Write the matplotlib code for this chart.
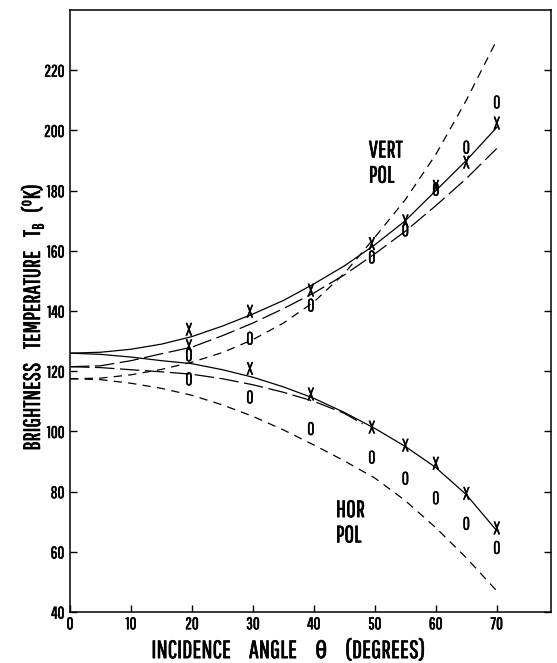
import matplotlib
matplotlib.use('Agg')
import matplotlib.pyplot as plt
import matplotlib.patheffects as pe
from matplotlib.text import Text

plt.rcParams['font.family'] = ['Pathway Gothic One', 'Roboto Condensed', 'DejaVu Sans']
plt.rcParams['mathtext.fontset'] = 'custom'
plt.rcParams['mathtext.rm'] = 'Pathway Gothic One'
plt.rcParams['mathtext.it'] = 'Pathway Gothic One'
plt.rcParams['lines.scale_dashes'] = False

# theory curves, angle in degrees
angle = [0, 5, 10, 15, 20, 25, 30, 35, 40, 45, 50, 55, 60, 65, 70]
vert_solid = [126, 126.3, 127.3, 129, 131.5, 135, 139, 143.5, 149, 155, 162, 170, 180, 190, 201]
vert_long = [121.5, 121.8, 123.5, 125.8, 128, 131.8, 136, 140.8, 146, 152, 159, 166.5, 175, 184, 194]
vert_short = [117.5, 117.7, 118.8, 120.6, 123, 126.2, 130.5, 136, 143, 152.5, 164.5, 177, 192, 210, 230]
hor_solid = [126, 125.6, 124.7, 123.5, 122.5, 120.5, 118, 114.8, 111, 106.3, 101, 95, 88, 79, 67]
hor_short = [117.5, 117.2, 116, 114.3, 112, 108.8, 105, 100.5, 95.5, 90.2, 84.5, 77, 68, 58, 47]
angle_long_h = [0, 5, 10, 15, 20, 25, 30, 35, 40, 45, 48]
hor_long = [121.5, 121.2, 120.5, 119.8, 119, 117.5, 115.5, 113, 110, 106, 102.5]

# measured points
meas_angle = [19.5, 29.5, 39.5, 49.5, 55, 60, 65, 70]
vert_x = [133.5, 139.5, 146.5, 162, 169.5, 181, 189, 202]
vert_o = [125, 130.5, 141.5, 157.5, 166.5, 180, 194, 209]
hor_x = [128, 120.5, 112, 101, 95, 89, 79, 67.5]
hor_o = [117, 111, 100.5, 91, 84, 77.5, 69, 61]

fig = plt.figure(figsize=(5.57, 6.63), dpi=100)
ax = fig.add_axes([0.1257, 0.0769, 0.8636, 0.908])

lw = 0.9
long_dash = (0, (14, 4))
short_dash = (0, (6, 4.5))
ax.plot(angle, vert_solid, color='black', lw=lw)
ax.plot(angle, vert_long, color='black', lw=lw, linestyle=long_dash)
ax.plot(angle, vert_short, color='black', lw=lw, linestyle=short_dash)
ax.plot(angle, hor_solid, color='black', lw=lw)
ax.plot(angle_long_h, hor_long, color='black', lw=lw, linestyle=long_dash)
ax.plot(angle, hor_short, color='black', lw=lw, linestyle=short_dash)

marks = []
for a, v in zip(meas_angle, vert_x):
    marks.append(ax.text(a, v, 'X', ha='center', va='center', fontsize=13))
for a, v in zip(meas_angle, hor_x):
    marks.append(ax.text(a, v, 'X', ha='center', va='center', fontsize=13))
for a, v in zip(meas_angle, vert_o):
    marks.append(ax.text(a, v, '0', ha='center', va='center', fontsize=13))
for a, v in zip(meas_angle, hor_o):
    marks.append(ax.text(a, v, '0', ha='center', va='center', fontsize=13))

ax.text(49.0, 189, 'VERT\nPOL', ha='left', va='center', fontsize=17,
        linespacing=1.25)
ax.text(43.6, 69.5, 'HOR\nPOL', ha='left', va='center', fontsize=17,
        linespacing=1.25)

ax.set_xlim(0, 78.9)
ax.set_ylim(40, 240)
ax.set_xticks(range(0, 71, 10))
ax.set_yticks(range(40, 221, 20))
ax.tick_params(direction='in', length=5, width=1, labelsize=12, right=True, pad=3)
ax.tick_params(axis='y', pad=4)
for s in ax.spines.values():
    s.set_linewidth(1.1)

ax.set_xlabel('INCIDENCE     ANGLE     \u03b8     (DEGREES)', fontsize=18)
ax.xaxis.set_label_coords(0.455, -0.045)
ax.set_ylabel('BRIGHTNESS    TEMPERATURE    T$_{\\mathrm{B}}$   ($^{\\mathrm{o}}$K)',
              fontsize=17)
ax.yaxis.set_label_coords(-0.05, 0.49)

# old lettering is a bit heavier than the font
for t in fig.findobj(Text):
    w = 0.2 if t in marks else 0.45
    t.set_path_effects([pe.withStroke(linewidth=w, foreground='black')])

fig.savefig('out.png', dpi=100)
